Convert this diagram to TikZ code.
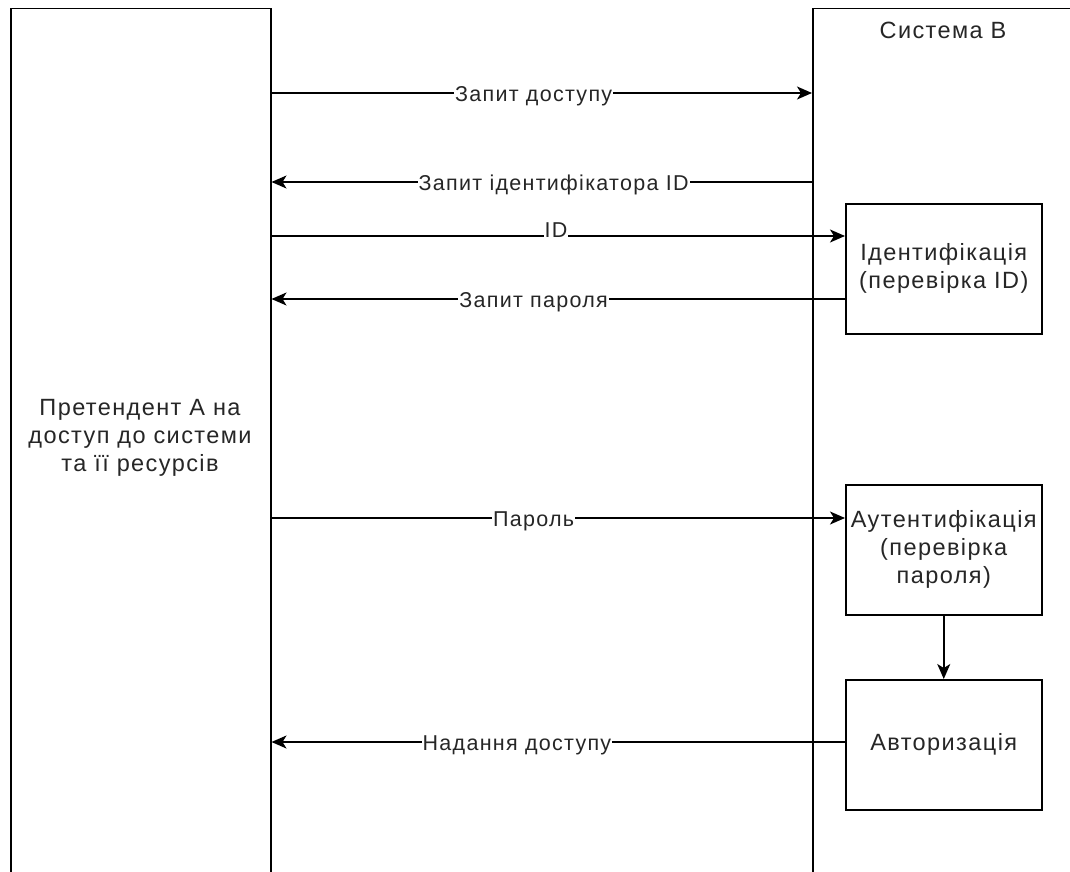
\documentclass[tikz,border=0pt]{standalone}
\usepackage{fontspec}
\setmainfont{Liberation Sans}
\usetikzlibrary{arrows.meta}
\newfontfamily\nodefont[LetterSpace=6]{Liberation Sans}
\tikzset{
  box/.style={draw=black, line width=1.5pt, rectangle, inner sep=0pt, font=\nodefont\fontsize{23.5}{28}\selectfont, text=black!85},
  arr/.style={draw=black, line width=1.5pt, -{Stealth[length=15pt,width=13pt,inset=4pt]}},
  lbl/.style={fill=white, inner sep=1pt, yshift=-3pt, font=\nodefont\fontsize{21.5}{24}\selectfont, text=black!85},
  txt/.style={font=\nodefont\fontsize{23.5}{28}\selectfont, text=black!85, align=center}
}
\begin{document}
\begin{tikzpicture}[x=1pt,y=-1pt]
\useasboundingbox (0,0) rectangle (1070,872);
\clip (0,0) rectangle (1070,872);
\fill[white] (0,0) rectangle (1070,872);
\node[box, minimum width=260pt, minimum height=900pt, anchor=north west] (A) at (10,8) {};
\node[box, minimum width=300pt, minimum height=900pt, anchor=north west] (B) at (812,8) {};
\node[txt] (Atext) at (140,438) {Претендент А на\\доступ до системи\\та її ресурсів};
\node[txt] (Btext) at (943,30) {Система В};
\node[box, minimum width=196pt, minimum height=130pt, anchor=north west, align=center] (I) at (845,203) {Ідентифікація\\(перевірка ID)};
\node[box, minimum width=196pt, minimum height=130pt, anchor=north west, align=center] (U) at (845,484) {Аутентифікація\\(перевірка\\пароля)};
\node[box, minimum width=196pt, minimum height=130pt, anchor=north west, align=center] (Z) at (845,679) {Авторизація};
\draw[arr] (A.east |- 0,93) -- node[lbl, pos=0.485] {Запит доступу} (B.west |- 0,93);
\draw[arr] (B.west |- 0,182) -- node[lbl, pos=0.478] {Запит ідентифікатора ID} (A.east |- 0,182);
\draw[arr] (A.east |- 0,236) -- node[lbl, pos=0.496, yshift=9pt] {ID} (I.west |- 0,236);
\draw[arr] (I.west |- 0,299) -- node[lbl, pos=0.543] {Запит пароля} (A.east |- 0,299);
\draw[arr] (A.east |- 0,518) -- node[lbl, pos=0.457] {Пароль} (U.west |- 0,518);
\draw[arr] (U.south) -- (Z.north);
\draw[arr] (Z.west |- 0,742) -- node[lbl, pos=0.572] {Надання доступу} (A.east |- 0,742);
\end{tikzpicture}
\end{document}
